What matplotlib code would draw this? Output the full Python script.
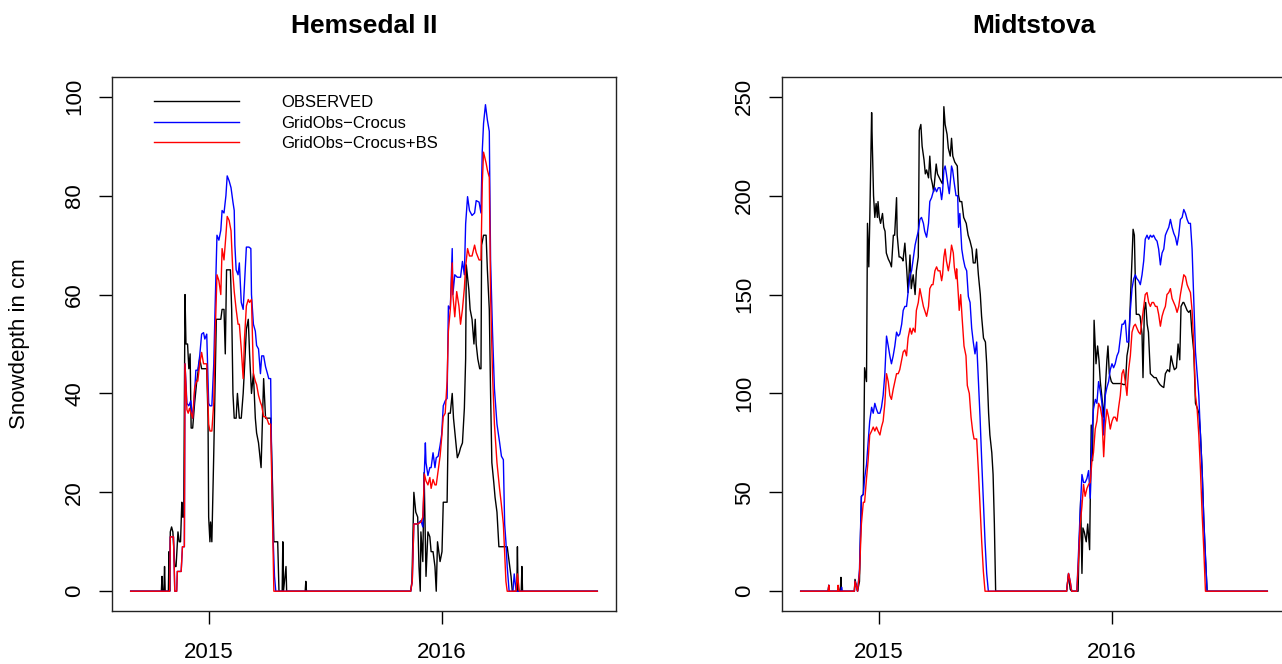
import numpy as np
import matplotlib
matplotlib.use("Agg")
import matplotlib.pyplot as plt
import matplotlib.dates as mdates
from datetime import datetime

plt.rcParams['font.family'] = ['Liberation Sans', 'DejaVu Sans']

START = datetime(2014, 9, 1)   # first day of the daily series
SERIES_NAMES = ["OBSERVED", "GridObs\u2212Crocus", "GridObs\u2212Crocus+BS"]
COLORS = ["black", "blue", "red"]
TITLES = ["Hemsedal II", "Midtstova"]
YLABEL = "Snowdepth in cm"

# ---- Hemsedal II : (day since START, snow depth cm) ----
hem_obs = [(0,0),(48,0),(49,3),(50,0),(52,0),(53,5),(54,0),(59,0),(60,8),(61,0),(62,12),(64,13),(66,12),
           (69,5),(71,5),(74,12),(76,10),(78,10),(80,18),(81,15),(83,15),(85,60),(86.5,50),(89,50),(91,45),
           (93,48),(94.6,33),(97,33),(100,38),(103,42),(105,44),(108,47),(111,45),(114,45),(119,45),(121,35),
           (122,15),(124,10),(125,14),(127,10),(130,28),(132,42),(134,55),(138,55),(141,55),(143,57),(146,57),
           (148,48),(150,65),(156,65),(158,57),(160,40),(162,35),(165,35),(167,40),(170,35),(173,35),(176,40),
           (178,45),(181,53),(184,55),(186,48),(189,40),(192,44),(195,35),(197,32),(200,30),(204,25),(208,43),
           (211,35),(216,35),(219,35),(222,21),(224,10),(230,10),(232,0),(237,0),(238,10),(239,0),(243,5),
           (244,0),(273,0),(274,2),(275,0),(438,0),(440,2),(443,20),(446,16),(449,15),(451,5),(453,0),(454,12),
           (457,6),(459,24),(462,3),(465,12),(468,11),(470,8),(473,8),(476,5),(478,0),(480,10),(484,6),(487,8),
           (489,18),(495,18),(497,36),(500,36),(503,40),(505,35),(508,31),(511,27),(514,28),(516,29),(519,30),
           (522,37),(524,47),(525,66),(529,61),(531,57),(534,55),(537,50),(539,55),(540.5,50),(543,47),(546,45),
           (548,45),(549,70),(552,72),(556,72),(558,65),(561,57),(563,40),(565,26),(568,22),(570,19),(573,16),
           (576,9),(579,9),(584,9),(589,9),(592,6),(595,3),(597,0),(604,0),(605,9),(606,0),(611,0),(612,5),
           (613,0),(730,0)]

hem_grid = [(0,0),(61,0),(62,11),(67,11),(69,0),(72,0),(73,4),(79,4),(81,9),(84,9),(85,46),(88,38),(91,37.5),
            (94,38.5),(97,35),(99,38),(102,44.7),(105,44.7),(108,47.6),(111,52),(114,52.3),(116,51),(119,52),
            (122,38),(124,37.5),(127,37.5),(130,46),(132,57),(135,72),(138,71),(141,73),(143,77),(146,76.5),
            (149,80),(151,84),(154,83),(157,81.6),(160,78.7),(162,77),(163,70),(165,65),(168,64),(170,66.4),
            (173,58.4),(176,57),(178,62),(181,69.6),(185,69.6),(188,69.3),(189,60),(192,54),(195,52.6),
            (197,49.7),(200,49),(203,44),(205,47.6),(208,47.6),(211,45.4),(214,44),(216,43),(219,43),(221,21),
            (223,10),(225,3),(227,0),(438,0),(440.5,2),(443,13.6),(449,13.6),(454,14.3),(457,13),(459.5,24.4),
            (461,30),(462,26),(465,23.4),(468,25),(470,25),(473,28),(476,25),(478,27),(481,27.3),(484,29.5),
            (486.5,31.7),(489,37.5),(492,38.5),(495,39),(497,57.7),(500,57),(503,69.3),(504,60),(507,64),
            (511,63.5),(514,63.5),(516,63.5),(519,66.7),(522,64),(524,74.3),(527,79.8),(530,77),(534,76),
            (538,76.5),(540.5,79),(545,78.7),(548,76.5),(550,89),(552,94.6),(555,98.4),(558,95.3),(561,93),
            (563,67),(566,52.6),(569,41),(573,33.8),(577,30.2),(580,27.3),(583,26.6),(585,13.6),(587,10),
            (589,5),(592,0),(598,0),(600,3.5),(603,0),(730,0)]

hem_grid_bs = [(0,0),(61,0),(62,11),(67,11),(69,0),(72,0),(73,4),(79,4),(81,9),(84,9),(85,46),(88,36.7),(90,36),
               (92,37),(97,35),(100,41),(103,42.5),(105,42.5),(108,46),(111,48.3),(114,46),(119,46),(122,33.8),
               (124,32.4),(127,32.4),(130,38.2),(132,51),(135,64),(138,62.8),(141,60),(143,69.3),(146,67),
               (149,72),(151,75.8),(154,75),(157,72.9),(160,64),(162,60.6),(165,57),(168,54),(170,54),(173,49),
               (176,43),(178,51),(181,57.7),(184,59),(186,58.4),(189,59),(192,44),(195,42.5),(197,41.8),
               (200,39.6),(203,38.2),(205,37.5),(208,35.3),(211,35.3),(214,34.6),(216,33.8),(219,33.8),
               (222,13.6),(224,0),(438,0),(440.5,2),(443,13.6),(449,13.6),(454,14),(457,15),(459.5,23.7),
               (462,22.3),(465,21.5),(468,23),(470,20.8),(473,22.6),(476,21.5),(478,21.5),(481,24.4),(484,27.3),
               (486.5,31),(489,35.3),(492,36),(495,42.5),(497,52.6),(500,57),(503,66.4),(504,60),(507,55.5),
               (510,60.6),(513.5,57.7),(516,54),(519,57),(522,61.3),(524,65.7),(527,69.3),(530,67.8),(534,67.8),
               (538,70),(540.5,68.5),(545,67),(548,67),(550,82.3),(552,88.8),(556,86.6),(558,85.2),(561,83.7),
               (563,60),(566,44),(569,33.8),(573,26),(577,20.8),(579.5,18),(583,13.6),(585,7.8),(587,2),(589,0),
               (603,0),(605,3.5),(608,0),(730,0)]

# ---- Midtstova ----
mid_obs = [(0,0),(43,0),(44,3),(45,0),(58,0),(59,2),(60,0),(62,0),(63,7),(64,0),(84,0),(85,6),(89,0),(92,5),
           (95,48),(98,49),(100,113),(103,106),(104.5,186),(106.6,164),(108,186),(111,242),(112,227),(114,200),
           (116,189),(118,196),(120,189),(121,197),(123,189),(125,186),(128,191),(130,184),(132,182),(134,171),
           (137,168),(140,166),(142,164),(145,180),(147,180),(150,199),(151,180),(154,169),(156,169),(159,168),
           (160,167),(163,176),(166,162),(168,151),(171,170),(173,153),(176,160),(179,150),(181,162),(184,169),
           (185.5,233),(188,236),(190,225),(193,218),(195,211),(197,213),(200,209),(202,220),(204,209),
           (206,206),(208,202),(212,216),(214,211),(217,209),(220,207),(222,206),(224,245),(226,236),(229,231),
           (231,224),(234,220),(236,229),(238,220),(241,217),(245,215),(247,200),(249,197),(252,197),(255,189),
           (259,186),(262,180),(265,177),(268,173),(270,166),(273,166),(275,173),(278,160),(281,150),(283,139),
           (286,128),(289,126),(291,115),(294,90),(296,79),(299,70),(301,59),(303,34),(305,0),(416,0),(419,8.7),
           (421.6,1),(424,0),(434,0),(435,16),(438,46),(440,9),(441.5,32),(443.6,30),(446.7,25),(449,34),
           (452,21),(454.5,84),(456.6,66),(459,137),(462,115),(464.5,124),(466.6,117),(468.7,106),(471,99),
           (474,88),(476.5,102),(479,117),(480.7,124),(482.8,110),(486,106),(488.5,105),(492,105),(497,105),
           (501,105),(505,104.5),(508,104.5),(510.4,119),(513,124),(515.7,146),(518.3,168),(520,183),(522,180),
           (523.5,157),(525,140),(529,140),(531,139),(534,130),(535.5,108),(537.6,142),(539.7,146),(542,135),
           (544,131),(547,110),(550,109),(553,108),(556,108),(559,106),(562,104.5),(565,103.6),(568,103),
           (570.5,110),(574,112),(577,111),(579.4,119),(582,115),(584.6,112),(587.8,113),(590.4,125),(593,117),
           (595,144),(598,146),(599.3,146),(602,144),(604.5,142),(607,141),(609.7,142),(612,131),(615,121),
           (617.6,95),(620,93),(623,90),(625.4,79),(628,61),(630.6,36),(633,18),(635.8,0),(730,0)]

mid_grid = [(0,0),(43,0),(44,3),(45,0),(63,0),(64,2),(65,0),(84,0),(85,5),(89,0),(92,11),(95,48),(98,49),
            (100,57),(103,64),(108,86),(111,93),(113.5,90),(116,95),(118.6,92),(121,90),(124,90),(126.4,93),
            (129,99),(131.7,110),(134.3,129),(137,124),(139.5,119),(142,115),(144.7,119),(147.3,124),(150,131),
            (152.6,129),(155,130),(158,135),(160.4,142),(163,144),(165.6,144),(168,151),(171,160),(173.5,162),
            (176,168),(179,175),(181,178),(184,182),(186.5,188),(189,189),(192,186),(194,182),(197,179),
            (200,186),(202,197),(204.8,199),(207.4,202),(210,204),(212.6,202),(215.3,204),(218,204),(220.5,198),
            (222,202),(224,213),(226,215),(228,211),(231,204),(232.5,201),(234.6,209),(236,215),(237.7,213),
            (240,207),(243,200),(245.6,200),(247,184),(249,191),(252,173),(254.4,168),(257,164),(259.7,162),
            (262.3,149),(265,146),(267.5,133),(270,126),(272.7,120),(275.3,126),(278,106),(280.6,88),
            (283.2,66),(285.8,46),(288.4,25),(291,9),(293.6,0),(416,0),(419,9),(421.6,5),(424,0),(432,0),
            (434.7,20),(437.3,41),(440,59),(442.5,55),(445,55),(447.8,57),(450.4,61),(453,47),(455.6,79),
            (458,92),(461,97),(463.4,95),(466,106),(468.7,101),(471.3,95),(474,79),(476.5,99),(479,103),
            (481.7,106),(484.3,112),(487,115),(489.5,113),(492,115),(494.8,119),(497.4,121),(500,128),
            (502.6,135),(505,135),(507.8,137),(510.4,126),(513,126),(515.7,142),(518.3,153),(521,158),
            (523.5,160),(526,158),(528.7,157),(531.3,155),(534,160),(536.6,167),(539,178),(541.8,180),
            (544.4,178),(547,180),(549.6,179),(552,180),(555,178),(557.5,177),(560,173),(562.7,165),
            (565.3,171),(568,173),(570.5,180),(573,182),(575.8,184),(578.4,188),(581,184),(583.6,181),
            (586.2,179),(588.8,175),(591.4,180),(594,188),(596.7,189),(599.3,193),(602,191),(604.5,188),
            (607,186),(609.7,186),(612.3,173),(615,146),(617.6,121),(620.2,110),(622.8,99),(625.4,79),
            (628,61),(630.6,36),(633.2,18),(635.8,0),(730,0)]

mid_grid_bs = [(0,0),(43,0),(44,3),(45,0),(58,0),(58.5,3),(60,0),(84,0),(85,5),(89,0),(92,9),(95,34),(98,45),
               (100,45),(103,57),(105.5,66),(108,79),(111,81),(113.5,83),(116,81),(118.6,83),(121,81),(124,79),
               (126.4,83),(129,86),(131.7,95),(134.3,110),(137,106),(139.5,99),(142,97),(144.7,102),(147.3,106),
               (150,110),(152.6,110),(155,112),(158,117),(160.4,121),(163,122),(165.6,119),(168,128),(171,133),
               (173.5,130),(176,133),(179,131),(181,142),(184,146),(186.5,153),(189,149),(192,144),(194,142),
               (197,139),(200,144),(202,153),(205,155),(207,155),(210,162),(212.6,164),(215,162),(218,162),
               (220.5,157),(222,160),(224,169),(226,173),(228,167),(231,162),(233.5,167),(236,175),(238.8,171),
               (240.3,164),(243,158),(244,163),(246.6,150),(248,142),(250.3,150),(252.4,139),(255.5,124),
               (258.6,119),(260.7,104),(263.8,100),(266.5,88),(269,81),(271.2,77),(273.8,77),(275.3,77),
               (278,61),(280.6,43),(283.2,25),(285.8,10),(288.4,0),(416,0),(419,9),(421.6,5),(424,0),(432,0),
               (434.7,16),(437.3,34),(440,43),(442.5,54),(445,48),(447.8,52),(450.4,54),(453,55),(455.6,66),
               (458,70),(460.8,82),(463.4,86),(466,95),(468.7,93),(471.3,88),(474,68),(476.5,84),(479,92),
               (481.7,88),(484.3,82),(487,86),(489.5,88),(492,88),(494.8,86),(497.4,93),(500,99),(502.6,110),
               (505,112),(507.8,106),(510.4,99),(513,112),(515.7,119),(518.3,131),(521,134),(523.5,135),
               (526,133),(528.7,131),(531.3,130),(534,137),(536.6,144),(539,150),(541.8,151),(544.4,146),
               (547,144),(549.6,146),(552,146),(555,144),(557.5,144),(560,140),(562.7,134),(565.3,139),
               (568,142),(570.5,144),(573,150),(575.8,151),(578.4,153),(581,148),(583.6,146),(586.2,144),
               (588.8,141),(591.4,144),(594,150),(596.7,155),(599.3,160),(602,159),(604.5,155),(607,153),
               (609.7,151),(612.3,142),(615,124),(617.6,99),(620.2,92),(622.8,79),(625.4,61),(628,39),
               (630.6,21),(633.2,0),(730,0)]

Y_TICKS = [[0, 20, 40, 60, 80, 100], [0, 50, 100, 150, 200, 250]]
Y_LIMITS = [(0, 100), (0, 250)]

panels = [[hem_obs, hem_grid, hem_grid_bs], [mid_obs, mid_grid, mid_grid_bs]]

start_num = mdates.date2num(START)

fig = plt.figure(figsize=(12.82, 6.64), dpi=100)
W, H = 1282.0, 664.0
ax_positions = [[112 / W, 53 / H, 504 / W, 534 / H], [782 / W, 53 / H, 504 / W, 534 / H]]

for p, (series_list, title) in enumerate(zip(panels, TITLES)):
    ax = fig.add_axes(ax_positions[p])
    for s, (ser, col, name) in enumerate(zip(series_list, COLORS, SERIES_NAMES)):
        arr = np.array(ser, dtype=float)
        ax.plot(start_num + arr[:, 0], arr[:, 1], color=col, lw=1.0, label=name)
    # R-style 4% padding
    xmin, xmax = start_num, start_num + 730
    pad = 0.04 * (xmax - xmin)
    ax.set_xlim(xmin - pad, xmax + pad)
    lo, hi = Y_LIMITS[p]
    ypad = 0.04 * (hi - lo)
    ax.set_ylim(lo - ypad, hi + ypad)
    ax.set_yticks(Y_TICKS[p])
    ax.xaxis.set_major_locator(mdates.YearLocator())
    ax.xaxis.set_major_formatter(mdates.DateFormatter('%Y'))
    ax.tick_params(direction='out', length=9.4, width=1.0, labelsize=16, color='black')
    ax.tick_params(axis='x', pad=13)
    ax.tick_params(axis='y', pad=10, labelrotation=90)
    for lab in ax.get_yticklabels():
        lab.set_va('center')
    for sp in ax.spines.values():
        sp.set_linewidth(1.0)
        sp.set_color('#222222')
    ax.set_title(title, fontsize=19, fontweight='bold', pad=32)
    if p == 0:
        ax.set_ylabel(YLABEL, fontsize=16)
        ax.yaxis.set_label_coords(-0.1845, 0.5)
        ax.yaxis.label.set_va('center')
        ax.legend(loc='upper left', bbox_to_anchor=(0.084, 0.966), frameon=False, fontsize=12,
                  handlelength=5.1, handletextpad=2.5, labelspacing=0.33, borderpad=0, borderaxespad=0)

fig.savefig("out.png", dpi=100)
